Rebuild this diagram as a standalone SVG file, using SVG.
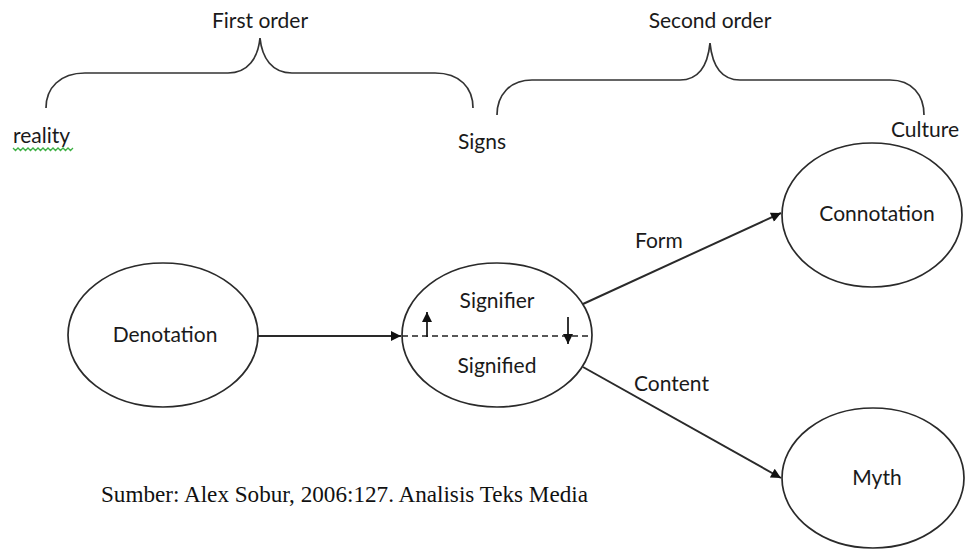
<svg xmlns="http://www.w3.org/2000/svg" width="968" height="550" viewBox="0 0 968 550">
<defs>
<style>
.lbl{font-family:Lato,"Open Sans","Liberation Sans",sans-serif;font-size:21px;fill:#1a1a1a}
.node{fill:#fff;stroke:#2a2a2a;stroke-width:1.7}
.conn{fill:none;stroke:#2a2a2a;stroke-width:2}
.brace{fill:none;stroke:#333;stroke-width:1.7}
.src{font-family:"Liberation Serif","Times New Roman",serif;font-size:23px;fill:#111}
</style>
<marker id="arr" viewBox="0 0 10 10" refX="10" refY="5" markerWidth="11" markerHeight="10" markerUnits="userSpaceOnUse" orient="auto">
<path d="M0,0 L10,5 L0,10 Z" fill="#111"/>
</marker>
<marker id="sarr" viewBox="0 0 10 10" refX="10" refY="5" markerWidth="10" markerHeight="10" markerUnits="userSpaceOnUse" orient="auto">
<path d="M0,0 L10,5 L0,10 Z" fill="#111"/>
</marker>
</defs>
<rect width="968" height="550" fill="#fff"/>

<g id="braces">
<path class="brace" d="M46,108 C46,88 60,73 85,73 L228,73 C248,73 258,58 260,38 C262,58 272,73 292,73 L435,73 C460,73 473,88 473,108"/>
<path class="brace" d="M497,115 C497,95 510,80 532,80 L680,80 C700,80 708,63 710,43 C712,63 720,80 740,80 L890,80 C912,80 924,95 924,115"/>
</g>

<g id="headers">
<text class="lbl" x="260" y="28" text-anchor="middle">First order</text>
<text class="lbl" x="710" y="28" text-anchor="middle">Second order</text>
<text class="lbl" x="13" y="143">reality</text>
<path d="M13,148 l2.5,2.5 l2.5,-2.5 l2.5,2.5 l2.5,-2.5 l2.5,2.5 l2.5,-2.5 l2.5,2.5 l2.5,-2.5 l2.5,2.5 l2.5,-2.5 l2.5,2.5 l2.5,-2.5 l2.5,2.5 l2.5,-2.5 l2.5,2.5 l2.5,-2.5 l2.5,2.5 l2.5,-2.5 l2.5,2.5 l2.5,-2.5 l2.5,2.5 l2.5,-2.5 l2.5,2.5 l2.5,-2.5" fill="none" stroke="#3cb043" stroke-width="1.3"/>
<text class="lbl" x="458" y="149">Signs</text>
<text class="lbl" x="891" y="137">Culture</text>
</g>

<g id="connectors">
<line class="conn" x1="258" y1="336" x2="401" y2="336" marker-end="url(#arr)"/>
<line class="conn" x1="583" y1="304" x2="781" y2="213" marker-end="url(#arr)"/>
<line class="conn" x1="583" y1="367" x2="781" y2="478" marker-end="url(#arr)"/>
<text class="lbl" x="635" y="248">Form</text>
<text class="lbl" x="634" y="391">Content</text>
</g>

<g id="denotation">
<ellipse class="node" cx="163" cy="335" rx="95" ry="72"/>
<text class="lbl" x="165" y="342" text-anchor="middle">Denotation</text>
</g>

<g id="signs">
<ellipse class="node" cx="497" cy="335" rx="95" ry="72"/>
<line x1="402" y1="336" x2="592" y2="336" stroke="#222" stroke-width="1.7" stroke-dasharray="6,4"/>
<line x1="427" y1="337" x2="427" y2="312" stroke="#111" stroke-width="1.7" marker-end="url(#sarr)"/>
<line x1="568" y1="317" x2="568" y2="344" stroke="#111" stroke-width="1.7" marker-end="url(#sarr)"/>
<text class="lbl" x="497" y="308" text-anchor="middle">Signifier</text>
<text class="lbl" x="497" y="373" text-anchor="middle">Signified</text>
</g>

<g id="connotation">
<ellipse class="node" cx="872" cy="215" rx="90" ry="72"/>
<text class="lbl" x="877" y="221" text-anchor="middle">Connotation</text>
</g>

<g id="myth">
<ellipse class="node" cx="873" cy="478" rx="91" ry="70"/>
<text class="lbl" x="877" y="485" text-anchor="middle">Myth</text>
</g>

<text class="src" x="101" y="502" textLength="487" lengthAdjust="spacingAndGlyphs">Sumber: Alex Sobur, 2006:127. Analisis Teks Media</text>
</svg>
